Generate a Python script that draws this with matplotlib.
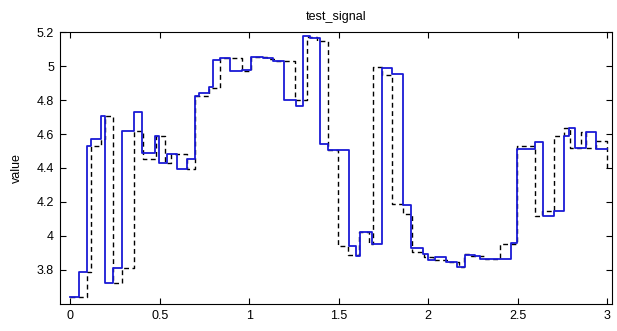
import matplotlib
matplotlib.use("Agg")
import matplotlib.pyplot as plt

# solid blue signal (stairs)
blue_t = [0.0, 0.050, 0.095, 0.114, 0.172, 0.194, 0.240, 0.291, 0.358, 0.402,
          0.476, 0.497, 0.539, 0.598, 0.653, 0.698, 0.721, 0.775, 0.796, 0.837,
          0.893, 0.958, 1.008, 1.079, 1.135, 1.196, 1.262, 1.301, 1.342, 1.396,
          1.438, 1.558, 1.595, 1.619, 1.689, 1.741, 1.797, 1.858, 1.906, 1.973,
          2.001, 2.039, 2.100, 2.160, 2.204, 2.260, 2.288, 2.465, 2.499, 2.595,
          2.641, 2.702, 2.758, 2.789, 2.823, 2.883, 2.940, 3.0]
blue_v = [3.640, 3.788, 4.528, 4.573, 4.704, 3.726, 3.811, 4.616, 4.727, 4.489,
          4.586, 4.431, 4.481, 4.392, 4.453, 4.826, 4.841, 4.878, 5.034, 5.049,
          4.969, 4.975, 5.055, 5.045, 5.027, 4.800, 4.766, 5.177, 5.163, 4.544,
          4.504, 3.942, 3.885, 4.026, 3.952, 4.989, 4.955, 4.184, 3.927, 3.893,
          3.861, 3.878, 3.849, 3.818, 3.890, 3.880, 3.864, 3.956, 4.510, 4.555,
          4.119, 4.148, 4.589, 4.637, 4.520, 4.610, 4.510, 4.510]

# dashed black signal (stairs)
dash_t = [0.0, 0.095, 0.114, 0.172, 0.194, 0.240, 0.291, 0.358, 0.405, 0.479,
          0.531, 0.563, 0.653, 0.698, 0.777, 0.837, 0.962, 1.008, 1.100, 1.150,
          1.254, 1.323, 1.379, 1.441, 1.497, 1.554, 1.615, 1.671, 1.694, 1.744,
          1.797, 1.860, 1.908, 1.975, 2.030, 2.117, 2.172, 2.198, 2.240, 2.317,
          2.400, 2.494, 2.595, 2.637, 2.701, 2.757, 2.793, 2.855, 2.883, 2.940,
          3.0]
dash_v = [3.640, 3.788, 4.528, 4.573, 4.704, 3.726, 3.811, 4.616, 4.450, 4.586,
          4.432, 4.481, 4.392, 4.825, 4.870, 5.045, 4.968, 5.052, 5.040, 5.030,
          4.798, 5.172, 5.150, 4.504, 3.942, 3.889, 4.026, 3.952, 4.995, 4.950,
          4.187, 4.128, 3.904, 3.875, 3.860, 3.845, 3.817, 3.897, 3.885, 3.864,
          3.953, 4.528, 4.119, 4.148, 4.589, 4.637, 4.520, 4.610, 4.515, 4.560,
          4.383]

xticks = [0, 0.5, 1, 1.5, 2, 2.5, 3]
xtick_labels = ["0", "0.5", "1", "1.5", "2", "2.5", "3"]
yticks = [3.8, 4.0, 4.2, 4.4, 4.6, 4.8, 5.0, 5.2]
ytick_labels = ["3.8", "4", "4.2", "4.4", "4.6", "4.8", "5", "5.2"]

plt.rcParams['font.family'] = ['Liberation Sans', 'DejaVu Sans']

fig = plt.figure(figsize=(6.17, 3.31), dpi=100)
ax = fig.add_axes([0.0968, 0.0816, 0.8952, 0.8217])

ax.step(dash_t, dash_v, where='post', color='black', lw=1.0,
        linestyle=(0, (3.5, 2.5)))
ax.step(blue_t, blue_v, where='post', color='#1a1ad6', lw=1.3)

ax.set_xlim(-0.059, 3.028)
ax.set_ylim(3.6, 5.2)
ax.set_xticks(xticks)
ax.set_xticklabels(xtick_labels)
ax.set_yticks(yticks)
ax.set_yticklabels(ytick_labels)
ax.tick_params(direction='in', length=4, width=0.8, top=True, right=True,
               labelsize=9, pad=4)
for s in ax.spines.values():
    s.set_linewidth(0.8)

ax.set_title("test_signal", fontsize=9, pad=9)
ax.set_ylabel("value", fontsize=9, labelpad=10)

fig.savefig("out.png", dpi=100)
